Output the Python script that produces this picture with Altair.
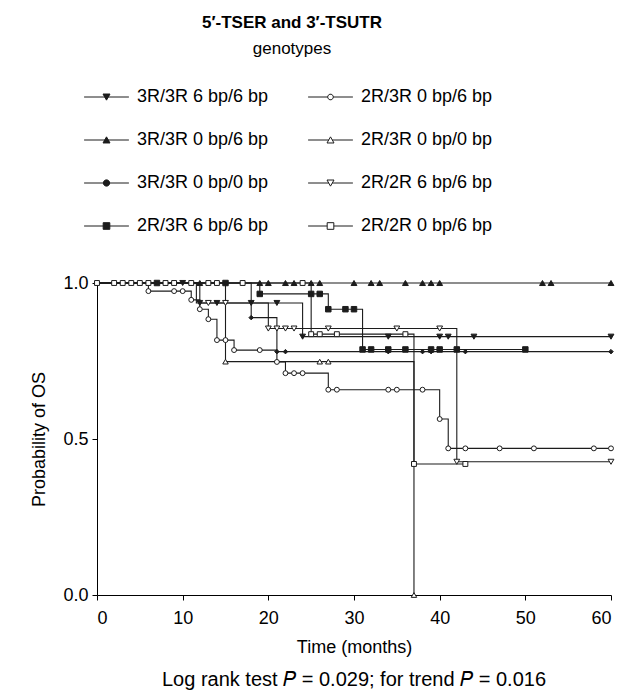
import math
import altair as alt
import pandas as pd

# ---------------- data ----------------
names = ["3R/3R 6 bp/6 bp", "3R/3R 0 bp/6 bp", "3R/3R 0 bp/0 bp", "2R/3R 6 bp/6 bp",
         "2R/3R 0 bp/6 bp", "2R/3R 0 bp/0 bp", "2R/2R 6 bp/6 bp", "2R/2R 0 bp/6 bp"]

# times (months) at which each curve steps down, and the survival after each step
drop_times = [
    [12, 24],
    [],
    [18, 21],
    [19, 27, 31],
    [6, 11, 12, 13, 14, 16, 21, 22, 27, 40, 41],
    [15, 37],
    [11.6, 20, 42],
    [25, 37],
]
drop_surv = [
    [0.936, 0.828],
    [],
    [0.889, 0.78],
    [0.965, 0.916, 0.787],
    [0.974, 0.946, 0.916, 0.884, 0.817, 0.785, 0.747, 0.711, 0.658, 0.564, 0.47],
    [0.748, 0.0],
    [0.936, 0.854, 0.427],
    [0.836, 0.42],
]
# censoring marks (months)
censor_times = [
    [10, 12, 14, 18, 21, 24, 34, 40, 41, 44, 60],
    [12, 19, 20, 22, 23, 25, 26, 30, 32, 33, 36, 38, 39, 40, 52, 53, 60],
    [18, 21, 22, 34, 38, 39, 43, 60],
    [7, 15, 19, 25, 26, 27, 29, 30, 31, 32, 34, 36, 39, 40, 42, 50],
    [6, 9, 10, 11, 12, 13, 14, 15, 16, 19, 21, 22, 23, 24, 27, 28, 34, 35, 38, 40, 41,
     43, 47, 51, 58, 60],
    [15, 26, 27, 37],
    [13, 15, 20, 21, 22, 23, 27, 35, 40, 42, 60],
    [0, 2, 3, 4, 5, 6, 8, 9, 11, 13, 14, 17, 24, 25, 26, 28, 36, 37, 43],
]
follow_end = [60, 60, 60, 50, 60, 37, 60, 43]

x_ticks = [0, 10, 20, 30, 40, 50, 60]
y_ticks = [0.0, 0.5, 1.0]

# ---------------- styles ----------------
INK = "#1c1c1c"
plot_shape = ["triangle-down", "triangle-up", "diamond", "square",
              "circle", "triangle-up", "triangle-down", "square"]
filled = [True, True, True, True, False, False, False, False]
plot_size = [34, 34, 20, 30, 24, 30, 34, 24]


def poly(pts):
    return "M" + "L".join(f"{x:.3f},{y:.3f}" for x, y in pts) + "Z"


def circle_path(r, n=18):
    return poly([(r * math.cos(2 * math.pi * k / n), r * math.sin(2 * math.pi * k / n))
                 for k in range(n)])


L = 6.4
full_line = f"M{-L},0H{L}"


def gap_line(g):
    return f"M{-L},0H{-g}M{g},0H{L}"


tri_down = poly([(-1, -0.85), (1, -0.85), (0, 0.9)])
tri_up = poly([(-1, 0.85), (1, 0.85), (0, -0.9)])
sq = poly([(-0.95, -0.95), (0.95, -0.95), (0.95, 0.95), (-0.95, 0.95)])
legend_path = [
    full_line + tri_down,
    full_line + tri_up,
    full_line + circle_path(0.9),
    full_line + sq,
    gap_line(0.8) + circle_path(0.8),
    gap_line(0.49) + tri_up,
    gap_line(0.49) + tri_down,
    gap_line(0.95) + sq,
]

# ---------------- build tables ----------------
line_rows, pt_rows = [], []
for k, name in enumerate(names):
    pts = [(0.0, 1.0)] + list(zip(drop_times[k], drop_surv[k]))
    last = pts[-1][1]
    pts.append((follow_end[k], last))
    for i, (t, s) in enumerate(pts):
        line_rows.append({"series": name, "t": t, "s": s, "i": i})
    for t in censor_times[k]:
        s = 1.0
        for dt, ds in zip(drop_times[k], drop_surv[k]):
            if t >= dt:
                s = ds
        pt_rows.append({"series": name, "t": t, "s": s})
line_df = pd.DataFrame(line_rows)
pt_df = pd.DataFrame(pt_rows)
leg_df = pd.DataFrame({"series": names, "t": [0.0] * 8, "s": [1.0] * 8})

W, H = 514, 312
xs = alt.Scale(domain=[0, 60], nice=False, zero=False)
ys = alt.Scale(domain=[0, 1], nice=False)
X = alt.X("t:Q", scale=xs, title="Time (months)",
          axis=alt.Axis(values=x_ticks, format="d"))
Y = alt.Y("s:Q", scale=ys, title="Probability of OS",
          axis=alt.Axis(values=y_ticks, format=".1f"))

lines = alt.Chart(line_df).mark_line(
    interpolate="step-after", color=INK, strokeWidth=1.1
).encode(x=X, y=Y, detail="series:N", order="i:Q")

point_layers = []
for k, name in enumerate(names):
    point_layers.append(
        alt.Chart(pt_df).transform_filter(alt.datum.series == name).mark_point(
            shape=plot_shape[k], filled=True, fill=INK if filled[k] else "white",
            stroke=INK, strokeWidth=1, size=plot_size[k], opacity=1
        ).encode(x=X, y=Y)
    )


def legend_layer(group, fill, lx):
    dom = [names[j] for j in group]
    leg = alt.Legend(title=None, orient="none", legendX=lx, legendY=-195, columns=1,
                     labelFontSize=18, labelFont="Liberation Sans", labelColor="black",
                     labelOffset=21.5, symbolSize=49, symbolStrokeWidth=1,
                     rowPadding=25, padding=0, labelLimit=300)
    return alt.Chart(leg_df).transform_filter(
        alt.FieldOneOfPredicate(field="series", oneOf=dom)
    ).mark_point(
        filled=True, fill=fill, opacity=0, size=49, stroke=INK, strokeWidth=1
    ).encode(
        x=X, y=Y,
        shape=alt.Shape("series:N",
                        scale=alt.Scale(domain=dom, range=[legend_path[j] for j in group]),
                        legend=leg),
    )


leg_left = legend_layer([0, 1, 2, 3], INK, 0.5)
leg_right = legend_layer([4, 5, 6, 7], "white", 224.5)

foot = alt.Chart(pd.DataFrame({"txt": ["Log rank test \U0001D443 = 0.029; for trend \U0001D443 = 0.016"]})
                 ).mark_text(fontSize=20, font="Liberation Sans", color="black",
                             baseline="middle", align="center").encode(
    text="txt:N", x=alt.value(W / 2), y=alt.value(H + 85))

chart = alt.layer(lines, *point_layers, leg_left, leg_right, foot).resolve_scale(
    shape="independent"
).properties(
    width=W, height=H,
    autosize=alt.AutoSizeParams(type="none"),
    padding={"left": 89, "top": 275, "right": 15, "bottom": 98},
    title=alt.TitleParams(
        text="5\u2032-TSER and 3\u2032-TSUTR", subtitle="genotypes",
        anchor="middle", frame="group", dx=-62, offset=30,
        fontSize=17, fontWeight="bold", font="Liberation Sans", color="black",
        subtitleFontSize=17, subtitleFont="Liberation Sans", subtitleColor="black",
        subtitlePadding=9),
).configure_view(stroke=None).configure_axis(
    grid=False, domainColor="black", tickColor="black", labelColor="black",
    titleColor="black", labelFont="Liberation Sans", titleFont="Liberation Sans",
    labelFontSize=18, titleFontSize=18, titleFontWeight="normal", tickSize=5,
    domainWidth=1, tickWidth=1
).configure_axisX(titlePadding=11, labelPadding=9).configure_axisY(titlePadding=14, labelPadding=4)

chart.save("out.html", embed_options={"renderer": "svg", "actions": False})
